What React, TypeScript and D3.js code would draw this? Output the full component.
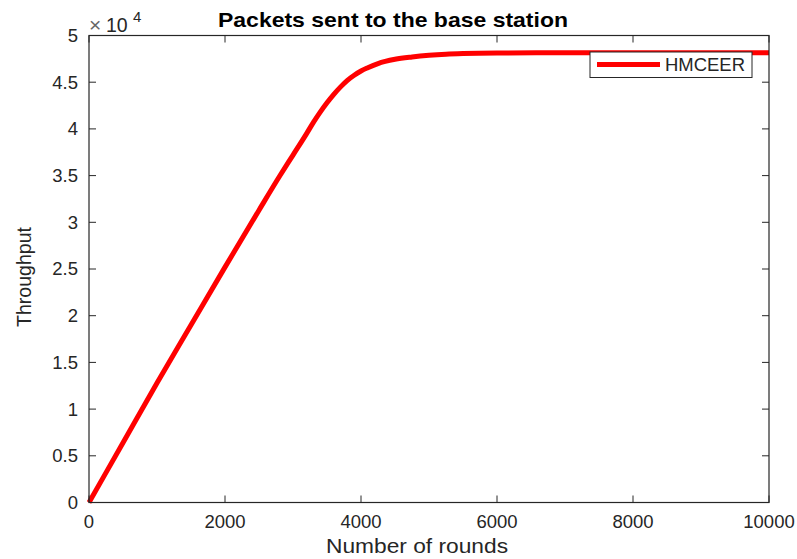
import { useEffect, useRef } from 'react'
import * as d3 from 'd3'

// rounds vs throughput (in units of 1e4 packets)
const rounds = [0, 500, 1000, 1500, 2000, 2500, 2800, 3000, 3200, 3300, 3400, 3500, 3600, 3700, 3800, 3900, 4000, 4100, 4250, 4500, 4750, 5000, 5250, 5500, 6000, 7000, 8000, 9000, 10000]
const throughput = [0, 0.64, 1.28, 1.9, 2.52, 3.13, 3.49, 3.72, 3.95, 4.07, 4.18, 4.28, 4.37, 4.45, 4.52, 4.575, 4.62, 4.655, 4.7, 4.745, 4.77, 4.788, 4.8, 4.807, 4.813, 4.815, 4.815, 4.815, 4.815]
const xTicks = [0, 2000, 4000, 6000, 8000, 10000]
const yTicks = [0, 0.5, 1, 1.5, 2, 2.5, 3, 3.5, 4, 4.5, 5]
const seriesName = 'HMCEER'

function App() {
  const svgRef = useRef<SVGSVGElement | null>(null)

  useEffect(() => {
    if (!svgRef.current) return
    const svg = d3.select(svgRef.current)
    svg.selectAll('*').remove()

    const width = 797
    const height = 559
    const margin = { left: 89, right: 28, top: 35.5, bottom: 56.5 }
    const w = width - margin.left - margin.right
    const h = height - margin.top - margin.bottom
    const axisColor = '#262626'
    const font = 'Liberation Sans, Arial, Helvetica, sans-serif'

    svg.attr('width', width).attr('height', height)
    svg.append('rect').attr('width', width).attr('height', height).attr('fill', '#fff')

    const g = svg.append('g').attr('transform', `translate(${margin.left},${margin.top})`)

    const x = d3.scaleLinear().domain([0, 10000]).range([0, w])
    const y = d3.scaleLinear().domain([0, 5]).range([h, 0])

    // line
    const data = rounds.map((r, i) => ({ r, v: throughput[i] }))
    const line = d3.line<{ r: number; v: number }>()
      .x(d => x(d.r))
      .y(d => y(d.v))
      .curve(d3.curveMonotoneX)

    g.append('path')
      .datum(data)
      .attr('fill', 'none')
      .attr('stroke', '#ff0000')
      .attr('stroke-width', 5)
      .attr('stroke-linejoin', 'round')
      .attr('d', line)

    // box
    g.append('rect')
      .attr('width', w)
      .attr('height', h)
      .attr('fill', 'none')
      .attr('stroke', axisColor)
      .attr('stroke-width', 1.2)

    const tickLen = 7
    // x ticks (bottom + top, inward)
    xTicks.forEach(t => {
      g.append('line').attr('x1', x(t)).attr('x2', x(t)).attr('y1', h).attr('y2', h - tickLen).attr('stroke', axisColor)
      g.append('line').attr('x1', x(t)).attr('x2', x(t)).attr('y1', 0).attr('y2', tickLen).attr('stroke', axisColor)
      g.append('text')
        .attr('x', x(t))
        .attr('y', h + 25)
        .attr('text-anchor', 'middle')
        .attr('font-family', font)
        .attr('font-size', 18.5)
        .attr('fill', axisColor)
        .text(t)
    })

    // y ticks (left + right, inward)
    yTicks.forEach(t => {
      g.append('line').attr('x1', 0).attr('x2', tickLen).attr('y1', y(t)).attr('y2', y(t)).attr('stroke', axisColor)
      g.append('line').attr('x1', w).attr('x2', w - tickLen).attr('y1', y(t)).attr('y2', y(t)).attr('stroke', axisColor)
      g.append('text')
        .attr('x', -11)
        .attr('y', y(t))
        .attr('dy', '0.35em')
        .attr('text-anchor', 'end')
        .attr('font-family', font)
        .attr('font-size', 18.5)
        .attr('fill', axisColor)
        .text(t)
    })

    // exponent label
    const expo = svg.append('text')
      .attr('font-family', font)
      .attr('fill', axisColor)
    expo.append('tspan').attr('x', 89).attr('y', 32).attr('font-size', 21).attr('fill', '#666').text('\u00d7')
    expo.append('tspan').attr('x', 106).attr('y', 32).attr('font-size', 19.5).text('10')
    expo.append('tspan').attr('x', 133).attr('y', 22).attr('font-size', 15).text('4')

    // title
    svg.append('text')
      .attr('x', 393)
      .attr('y', 27)
      .attr('text-anchor', 'middle')
      .attr('font-family', font)
      .attr('font-weight', 'bold')
      .attr('font-size', 21)
      .attr('textLength', 350)
      .attr('lengthAdjust', 'spacingAndGlyphs')
      .attr('fill', '#000')
      .text('Packets sent to the base station')

    // axis labels
    svg.append('text')
      .attr('x', 417)
      .attr('y', 553)
      .attr('text-anchor', 'middle')
      .attr('font-family', font)
      .attr('font-size', 19.5)
      .attr('textLength', 182)
      .attr('lengthAdjust', 'spacingAndGlyphs')
      .attr('fill', axisColor)
      .text('Number of rounds')

    svg.append('text')
      .attr('transform', 'translate(31,277) rotate(-90)')
      .attr('text-anchor', 'middle')
      .attr('font-family', font)
      .attr('font-size', 19.5)
      .attr('textLength', 100)
      .attr('lengthAdjust', 'spacingAndGlyphs')
      .attr('fill', axisColor)
      .text('Throughput')

    // legend
    const legend = svg.append('g').attr('transform', 'translate(590,52)')
    legend.append('rect')
      .attr('width', 162)
      .attr('height', 25.5)
      .attr('fill', '#fff')
      .attr('stroke', axisColor)
      .attr('stroke-width', 1)
    legend.append('line')
      .attr('x1', 7).attr('x2', 70)
      .attr('y1', 12.5).attr('y2', 12.5)
      .attr('stroke', '#ff0000')
      .attr('stroke-width', 5)
    legend.append('text')
      .attr('x', 75)
      .attr('y', 18.5)
      .attr('font-family', font)
      .attr('font-size', 17.5)
      .attr('textLength', 80)
      .attr('lengthAdjust', 'spacingAndGlyphs')
      .attr('fill', axisColor)
      .text(seriesName)
  }, [])

  return (
    <div style={{ position: 'absolute', left: 0, top: 0 }}>
      <svg ref={svgRef}></svg>
    </div>
  )
}

export default App
